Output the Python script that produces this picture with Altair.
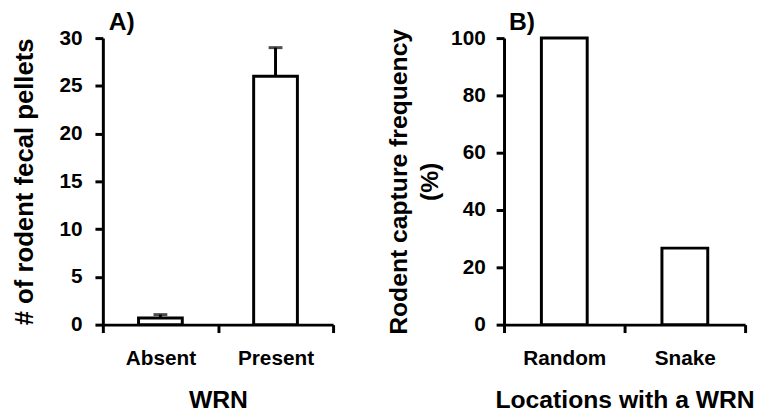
import altair as alt
import pandas as pd

# Panel A data
cats_a = ["Absent", "Present"]
vals_a = [0.7, 26.0]
err_a = [0.35, 3.0]

# Panel B data
cats_b = ["Random", "Snake"]
vals_b = [100.0, 26.7]

FONT = "Liberation Sans"

df_a = pd.DataFrame({"cat": cats_a, "val": vals_a,
                     "top": [v + e for v, e in zip(vals_a, err_a)]})
df_b = pd.DataFrame({"cat": cats_b, "val": vals_b})

def x_axis(title):
    return alt.Axis(title=title, labelAngle=0, tickBand="extent",
                    domainWidth=3, domainColor="black", tickWidth=3, tickColor="black",
                    tickSize=8, labelFontSize=21, labelPadding=15,
                    titleFontSize=25, titlePadding=20)

def y_axis(title, values, tpad, lpad, tsize):
    return alt.Axis(title=title, values=values, grid=False,
                    domainWidth=3, domainColor="black", tickWidth=3, tickColor="black",
                    tickSize=8, labelFontSize=21, labelPadding=lpad,
                    titleFontSize=tsize, titlePadding=tpad, titleLineHeight=32)

xs = alt.Scale(paddingInner=0, paddingOuter=0)

base_a = alt.Chart(df_a)
bars_a = base_a.mark_bar(fill="white", stroke="black", strokeWidth=3,
                         width=alt.RelativeBandSize(0.38)).encode(
    x=alt.X("cat:N", sort=cats_a, scale=xs, axis=x_axis("WRN")),
    y=alt.Y("val:Q", scale=alt.Scale(domain=[0, 30], nice=False),
            axis=y_axis("# of rodent fecal pellets", [0, 5, 10, 15, 20, 25, 30], 22, 13, 26)),
)
err_rule_a = base_a.mark_rule(color="black", strokeWidth=3).encode(
    x=alt.X("cat:N", sort=cats_a), y="val:Q", y2="top:Q")
caps_a = base_a.mark_tick(color="black", thickness=3, size=14, orient="horizontal").encode(
    x=alt.X("cat:N", sort=cats_a), y="top:Q")

panel_a = alt.layer(bars_a, err_rule_a, caps_a).properties(
    width=233, height=290,
    title=alt.TitleParams("A)", anchor="start", frame="group", dx=6, offset=-8,
                          fontSize=25, fontWeight="bold", font=FONT))

base_b = alt.Chart(df_b)
bars_b = base_b.mark_bar(fill="white", stroke="black", strokeWidth=3,
                         width=alt.RelativeBandSize(0.38)).encode(
    x=alt.X("cat:N", sort=cats_b, scale=xs, axis=x_axis("Locations with a WRN")),
    y=alt.Y("val:Q", scale=alt.Scale(domain=[0, 100], nice=False),
            axis=y_axis(["Rodent capture frequency", "(%)"], [0, 20, 40, 60, 80, 100], 8, 11, 25)),
)
panel_b = alt.layer(bars_b).properties(
    width=244, height=290,
    title=alt.TitleParams("B)", anchor="start", frame="group", dx=5, offset=-8,
                          fontSize=25, fontWeight="bold", font=FONT))

chart = alt.hconcat(panel_a, panel_b, spacing=51).properties(
    padding={"left": 3, "top": 0, "right": 0, "bottom": 0}
).configure(font=FONT).configure_axis(
    labelFont=FONT, titleFont=FONT, labelFontWeight="bold", titleFontWeight="bold",
    labelColor="black", titleColor="black"
).configure_view(stroke=None)

chart.save("out.html", embed_options={"renderer": "svg", "actions": False})
